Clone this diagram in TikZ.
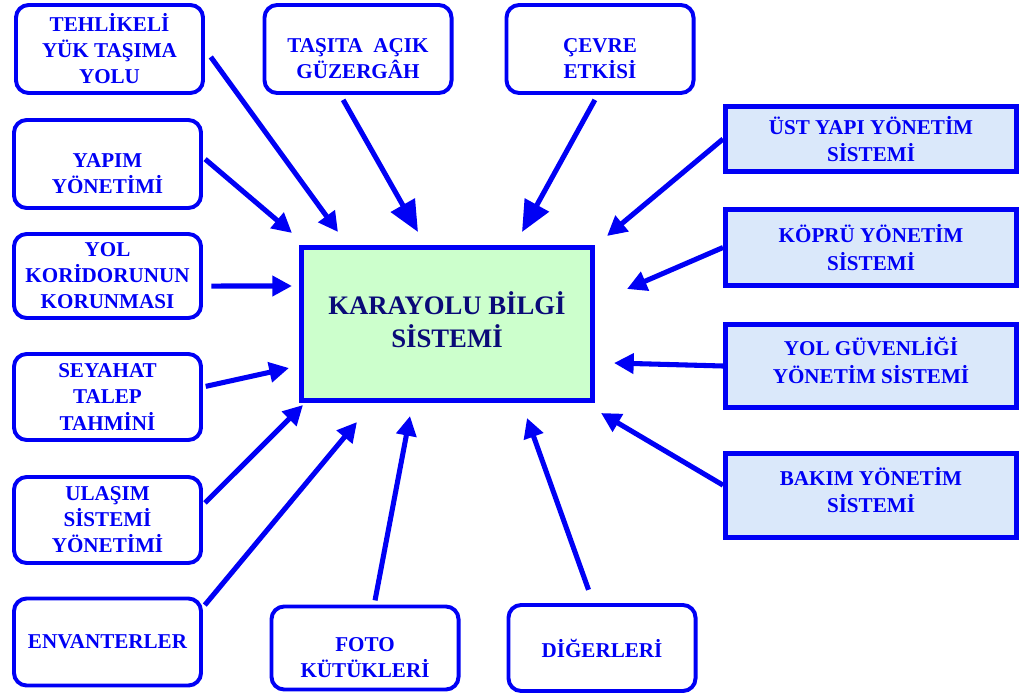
\documentclass[tikz,border=0pt]{standalone}
\usepackage{fontspec}
\setmainfont{Liberation Serif}
\usetikzlibrary{arrows.meta}

\definecolor{kbsblue}{RGB}{0,0,245}
\definecolor{kbsnavy}{RGB}{10,10,120}
\definecolor{kbsmint}{RGB}{204,255,204}
\definecolor{kbsice}{RGB}{218,232,250}

\begin{document}
\begin{tikzpicture}[x=0.025cm,y=-0.025cm,>={Triangle[length=14pt,width=14pt]},
	side node/.style={draw=kbsblue,line width=2.8pt,rounded corners=9pt,text=kbsblue,
		font=\fontsize{15}{18.5}\selectfont\bfseries,align=center,
		minimum width=4.675cm,inner sep=0pt},
	sys node/.style={draw=kbsblue,line width=3.5pt,fill=kbsice,text=kbsblue,
		font=\fontsize{15}{19.5}\selectfont\bfseries,align=center,
		minimum width=7.275cm,inner sep=0pt},
	main node/.style={draw=kbsblue,line width=3.5pt,fill=kbsmint,text=kbsnavy,
		font=\fontsize{19}{23.5}\selectfont\bfseries,align=center,
		minimum width=7.275cm,minimum height=3.825cm},
	feed/.style={->,draw=kbsblue,fill=kbsblue,line width=3.6pt},
	big tip/.style={-{Triangle[length=22pt,width=19pt]}}]
	\useasboundingbox (0,0) rectangle (1024,696);

	% centre
	\node[main node] (kbs) at (447,324) {KARAYOLU BİLGİ\\SİSTEMİ\rule[-6pt]{0pt}{6pt}};

	% left and top/bottom boxes
	\node[side node,minimum height=2.2cm] (tehlike) at (109.5,49) {TEHLİKELİ\\YÜK TAŞIMA\\YOLU};
	\node[side node,minimum height=2.2cm] (guzergah) at (358,49) {\rule{0pt}{24pt}TAŞITA~ AÇIK\\GÜZERGÂH};
	\node[side node,minimum height=2.2cm] (cevre) at (600,49) {\rule{0pt}{24pt}ÇEVRE\\ETKİSİ};
	\node[side node,minimum height=2.2cm] (yapim) at (107.5,164) {\rule{0pt}{24pt}YAPIM\\YÖNETİMİ};
	\node[side node,minimum height=2.1cm] (koridor) at (107.5,276) {YOL\\KORİDORUNUN\\KORUNMASI};
	\node[side node,minimum height=2.15cm] (seyahat) at (107.5,397) {SEYAHAT\\TALEP\\TAHMİNİ};
	\node[side node,minimum height=2.15cm] (ulasim) at (107.5,520) {ULAŞIM\\SİSTEMİ\\YÖNETİMİ};
	\node[side node,minimum height=2.175cm] (envanter) at (107.5,642) {ENVANTERLER};
	\node[side node,minimum height=2.075cm] (foto) at (365,648) {\rule{0pt}{24pt}FOTO\\KÜTÜKLERİ};
	\node[side node,minimum height=2.15cm] (diger) at (602,648) {DİĞERLERİ};

	% right boxes
	\node[sys node,minimum height=1.625cm] (ustyapi) at (871,139) {ÜST YAPI YÖNETİM\\SİSTEMİ};
	\node[sys node,minimum height=1.9cm] (kopru) at (871,247.5) {KÖPRÜ YÖNETİM\\SİSTEMİ};
	\node[sys node,minimum height=2.075cm] (guvenlik) at (871,366) {YOL GÜVENLİĞİ\\YÖNETİM SİSTEMİ\rule[-8pt]{0pt}{8pt}};
	\node[sys node,minimum height=2.1cm] (bakim) at (871,495.5) {BAKIM YÖNETİM\\SİSTEMİ\rule[-8pt]{0pt}{8pt}};

	% arrow tips round the centre box
	\coordinate (in1) at (338,232);
	\coordinate (in2) at (418,232);
	\coordinate (in3) at (522,232);
	\coordinate (in4) at (292,233);
	\coordinate (in5) at (292,286);
	\coordinate (in6) at (289,368);
	\coordinate (in7) at (303,405);
	\coordinate (in8) at (357,422);
	\coordinate (in9) at (410,416);
	\coordinate (in10) at (527,418);
	\coordinate (in11) at (607,236);
	\coordinate (in12) at (627,289);
	\coordinate (in13) at (614,363);
	\coordinate (in14) at (601,413);

	\path[every edge/.style={feed}]
	(tehlike.east) edge[shorten <=7pt] (in1)
	(guzergah.-111) edge[big tip,shorten <=4pt] (in2)
	(cevre.-93) edge[big tip,shorten <=4pt] (in3)
	(yapim.4) edge[shorten <=2pt] (in4)
	(koridor.-6) edge[shorten <=6pt] (in5)
	(seyahat.6) edge[shorten <=2pt] (in6)
	(ulasim.9) edge[shorten <=2pt] (in7)
	(envanter.20) edge[shorten <=2pt] (in8)
	(foto.78) edge[shorten <=3pt] (in9)
	(diger.101) edge[shorten <=10pt] (in10)
	(ustyapi.west) edge (in11)
	(kopru.west) edge (in12)
	(guvenlik.west) edge (in13)
	(bakim.176) edge (in14)
	;
\end{tikzpicture}
\end{document}
